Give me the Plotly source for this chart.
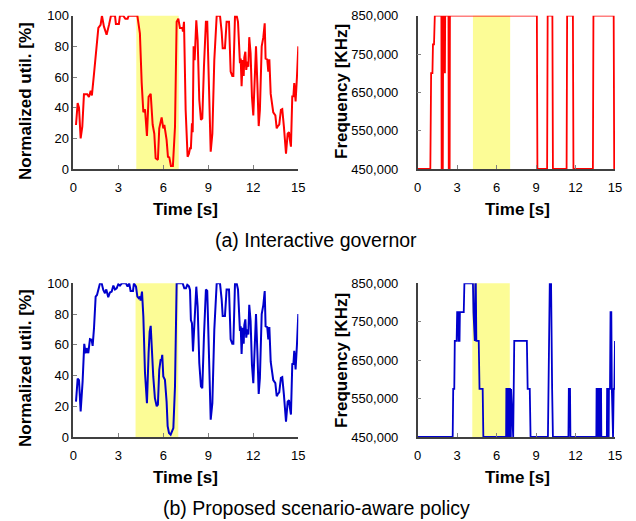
import plotly.graph_objects as go

# ---- CPU utilisation, interactive governor (time [s], util [%]) ----
TIME_UTIL_A = [0.18, 0.29, 0.38, 0.49, 0.60, 0.71, 0.93, 1.04, 1.16, 1.24, 1.38, 1.56, 1.67, 1.82, 1.91,
               2.04, 2.22, 2.38, 2.51, 2.78, 2.84, 3.04, 3.11, 3.33, 3.47, 3.62, 3.69, 4.27, 4.44, 4.56,
               4.67, 4.78, 4.91, 5.02, 5.16, 5.29, 5.40, 5.49, 5.64, 5.73, 5.89, 6.00, 6.07, 6.22, 6.31,
               6.40, 6.51, 6.64, 6.78, 6.89, 7.00, 7.11, 7.27, 7.31, 7.38, 7.49, 7.62, 7.71, 7.78, 7.84,
               7.91, 7.96, 8.02, 8.09, 8.20, 8.29, 8.40, 8.51, 8.60, 8.71, 8.84, 8.93, 9.04, 9.16, 9.27,
               9.40, 9.56, 9.78, 9.89, 9.96, 10.11, 10.22, 10.38, 10.49, 10.60, 10.67, 10.78, 10.89, 10.98,
               11.07, 11.11, 11.16, 11.22, 11.29, 11.36, 11.40, 11.47, 11.53, 11.60, 11.67, 11.73, 11.82,
               11.91, 12.00, 12.09, 12.18, 12.27, 12.36, 12.44, 12.56, 12.67, 12.76, 12.82, 12.93, 13.00,
               13.07, 13.16, 13.33, 13.47, 13.56, 13.64, 13.73, 13.84, 13.93, 14.04, 14.11, 14.18, 14.29,
               14.38, 14.44, 14.51, 14.60, 14.67, 14.73, 14.82, 14.91, 15.00]
UTIL_A = [28.7, 43, 40, 20, 27.6, 48.7, 48.7, 47, 51, 48, 62, 80, 92, 94, 100,
          93, 87.6, 94, 100, 100, 94.6, 94.6, 100, 100, 98, 98, 100, 100, 88.5, 56,
          37, 39, 21.5, 47, 49, 29, 23, 7, 6, 26.5, 33.7, 26.5, 28.7, 19, 8,
          7.6, 2, 2, 27.6, 96, 98, 92, 92, 89.6, 96, 38.5, 8, 10, 13.5, 13.5,
          29.8, 24, 80, 71, 97, 84, 45, 32, 33, 66.7, 96, 96, 45, 11.3, 23,
          71, 100, 100, 89.6, 78.7, 78.7, 96, 96, 63.5, 60.7, 60.7, 100, 100, 96,
          77.6, 69, 72, 54, 71, 60.7, 72.8, 76.5, 64.6, 70, 66.7, 86, 75.4,
          47, 35, 57, 80, 56, 28, 38.5, 80, 86, 95, 72, 71.5, 63.5,
          71.5, 49, 37, 35, 26.5, 28, 29, 38.5, 39, 27.6, 16.7, 10, 23,
          24, 19, 14.6, 48, 47, 56, 44, 60, 80]

# ---- CPU utilisation, scenario-aware policy ----
TIME_UTIL_B = [0.18, 0.29, 0.38, 0.49, 0.62, 0.73, 0.82, 0.89, 1.00, 1.11, 1.22, 1.29, 1.38, 1.49, 1.58,
               1.69, 1.78, 1.89, 2.00, 2.11, 2.20, 2.33, 2.44, 2.56, 2.67, 2.78, 2.89, 3.00, 3.11, 3.24,
               3.51, 3.62, 3.73, 3.82, 3.98, 4.04, 4.18, 4.27, 4.36, 4.44, 4.49, 4.58, 4.67, 4.78, 4.84,
               4.91, 5.02, 5.09, 5.16, 5.22, 5.33, 5.44, 5.56, 5.64, 5.73, 5.82, 5.89, 5.93, 6.00, 6.11,
               6.22, 6.29, 6.38, 6.49, 6.60, 6.67, 6.78, 6.89, 7.29, 7.40, 7.51, 7.60, 7.71, 7.78, 7.84,
               7.91, 7.98, 8.07, 8.11, 8.20, 8.29, 8.40, 8.51, 8.60, 8.71, 8.84, 8.93, 9.04, 9.16, 9.27,
               9.40, 9.56, 9.78, 9.89, 9.96, 10.11, 10.22, 10.38, 10.49, 10.60, 10.67, 10.78, 10.89, 10.98,
               11.07, 11.11, 11.16, 11.22, 11.29, 11.36, 11.40, 11.47, 11.53, 11.60, 11.67, 11.73, 11.82,
               11.91, 12.00, 12.09, 12.18, 12.27, 12.36, 12.44, 12.56, 12.67, 12.76, 12.82, 12.93, 13.00,
               13.07, 13.16, 13.33, 13.47, 13.56, 13.64, 13.73, 13.84, 13.93, 14.04, 14.11, 14.18, 14.29,
               14.38, 14.44, 14.51, 14.60, 14.67, 14.73, 14.82, 14.91, 15.00]
UTIL_B = [23, 38, 37, 16.7, 36, 60.6, 54.5, 57.8, 54.5, 63.6, 63.2, 59.3, 70.8, 91.3, 92.4,
          97.8, 100, 100, 95.7, 93.5, 96, 91, 94, 94.6, 98.5, 96, 96.7, 99.4, 98.5, 100,
          100, 97.8, 100, 95, 95, 100, 97.8, 91.3, 90.3, 91.3, 88.7, 94.6, 78.4, 41.6, 29.7,
          22, 54.5, 68.6, 72.3, 56.7, 39.4, 25.3, 20, 21, 43.7, 50.2, 50.6, 53.5, 39.4, 37.2,
          23, 7, 2.6, 1.5, 3.7, 5.8, 33, 100, 100, 96.7, 96.7, 99, 98, 95.7, 76,
          74, 55.6, 76, 80.5, 97.8, 84.8, 48, 33, 31.8, 65.4, 96, 95, 46, 11.3, 22,
          69.7, 100, 100, 89.6, 78.7, 78.7, 96, 96, 63.5, 60.7, 60.7, 100, 100, 96,
          77.6, 69, 72, 54, 71, 60.7, 72.8, 76.5, 64.6, 70, 66.7, 86, 75.4,
          47, 35, 57, 80, 56, 28, 38.5, 80, 86, 95, 72, 71.5, 63.5,
          71.5, 49, 37, 35, 26.5, 28, 29, 38.5, 39, 27.6, 16.7, 10, 23,
          24, 19, 14.6, 48, 47, 56, 44, 60, 80]

# ---- CPU frequency, interactive governor (time [s], KHz) ----
TIME_FREQ_A = [0.00, 0.96, 1.02, 1.12, 1.16, 1.24, 1.30, 1.80, 1.82, 1.85, 1.89, 1.91, 1.94, 2.02, 2.04,
               2.07, 2.09, 2.34, 2.36, 2.43, 2.45, 9.06, 9.10, 9.84, 9.88, 10.24, 10.28, 11.32, 11.36,
               11.80, 11.84, 13.32, 13.36, 14.90, 14.94, 15.00]
FREQ_A = [450000, 450000, 700000, 700000, 775000, 775000, 850000, 850000, 450000, 850000, 850000, 450000,
          850000, 850000, 700000, 700000, 850000, 850000, 450000, 450000, 850000, 850000, 450000, 450000,
          850000, 850000, 450000, 450000, 850000, 850000, 450000, 450000, 850000, 850000, 450000, 450000]

# ---- CPU frequency, scenario-aware policy ----
TIME_FREQ_B = [0.00, 2.66, 2.70, 2.78, 2.82, 2.96, 3.00, 3.08, 3.11, 3.18, 3.21, 3.50, 3.55, 4.20, 4.24,
               4.30, 4.34, 4.38, 4.42, 4.46, 4.50, 4.64, 4.70, 4.94, 4.99, 6.72, 6.74, 6.78, 6.80, 6.84,
               6.86, 6.90, 6.92, 6.96, 6.98, 7.02, 7.04, 7.08, 7.10, 7.26, 7.30, 7.34, 8.30, 8.36, 8.52,
               8.58, 9.90, 9.96, 10.04, 10.14, 10.18, 10.22, 10.28, 11.46, 11.49, 11.58, 11.61, 13.58,
               13.60, 13.64, 13.66, 13.70, 13.72, 13.76, 13.78, 13.86, 13.88, 13.94, 13.96, 14.38, 14.40,
               14.45, 14.47, 14.52, 14.54, 14.62, 14.66, 14.72, 14.76, 14.82, 14.85, 14.90, 14.95, 15.00]
FREQ_B = [450000, 450000, 575000, 575000, 700000, 700000, 775000, 775000, 700000, 700000, 775000, 775000,
          850000, 850000, 775000, 700000, 700000, 850000, 850000, 700000, 700000, 700000, 575000, 575000,
          450000, 450000, 575000, 575000, 450000, 450000, 575000, 575000, 450000, 450000, 575000, 575000,
          450000, 450000, 575000, 450000, 575000, 700000, 700000, 575000, 575000, 450000, 450000, 700000,
          850000, 850000, 575000, 575000, 450000, 450000, 575000, 575000, 450000, 450000, 575000, 575000,
          450000, 450000, 575000, 575000, 450000, 450000, 575000, 575000, 450000, 450000, 575000, 575000,
          450000, 450000, 575000, 575000, 775000, 775000, 575000, 450000, 450000, 575000, 575000, 700000]

# highlighted scenario window [s]
WINDOW_A = (4.2, 7.03)
WINDOW_B = (4.15, 7.0)

TIME_TICKS = [0, 3, 6, 9, 12, 15]
UTIL_TICKS = [0, 20, 40, 60, 80, 100]
FREQ_TICKS = [450000, 550000, 650000, 750000, 850000]

W, H = 636, 521
RED = "#ff0000"
BLUE = "#0000cc"
SHADE = "#fcfc96"
FONT = "Liberation Sans, Arial, sans-serif"


def px_x(a, b):
    return [a / W, b / W]


def px_y(top, bottom):
    return [1 - bottom / H, 1 - top / H]


fig = go.Figure()

fig.add_trace(go.Scatter(x=TIME_UTIL_A, y=UTIL_A, mode="lines", line=dict(color=RED, width=2),
                         xaxis="x", yaxis="y"))
fig.add_trace(go.Scatter(x=TIME_FREQ_A, y=FREQ_A, mode="lines", line=dict(color=RED, width=1.8),
                         xaxis="x2", yaxis="y2"))
fig.add_trace(go.Scatter(x=TIME_UTIL_B, y=UTIL_B, mode="lines", line=dict(color=BLUE, width=2),
                         xaxis="x3", yaxis="y3"))
fig.add_trace(go.Scatter(x=TIME_FREQ_B, y=FREQ_B, mode="lines", line=dict(color=BLUE, width=1.8),
                         xaxis="x4", yaxis="y4"))

axis_common = dict(showline=True, linecolor="#404040", linewidth=1.5, ticks="inside", ticklen=4,
                   tickcolor="#808080", tickwidth=1, showgrid=False, zeroline=False, automargin=False,
                   tickfont=dict(family=FONT, size=13, color="#000000"))

xa = dict(axis_common, range=[0, 15], tickvals=TIME_TICKS, ticklabelstandoff=6)
ya_util = dict(axis_common, range=[0, 100], tickvals=UTIL_TICKS, ticklabelstandoff=0)
ya_freq = dict(axis_common, range=[450000, 850000], tickvals=FREQ_TICKS, tickformat=",d",
               ticklabelstandoff=15)

TOP = (15.7, 169.0)
BOT = (283.3, 437.0)
LEFT = (73.3, 298.3)
RIGHT = (417.7, 615.0)

fig.update_layout(
    template="none",
    width=W, height=H, margin=dict(l=0, r=0, t=0, b=0, pad=0),
    paper_bgcolor="white", plot_bgcolor="white", showlegend=False,
    xaxis=dict(xa, domain=px_x(*LEFT), anchor="y"),
    yaxis=dict(ya_util, domain=px_y(*TOP), anchor="x"),
    xaxis2=dict(xa, domain=px_x(*RIGHT), anchor="y2"),
    yaxis2=dict(ya_freq, domain=px_y(*TOP), anchor="x2"),
    xaxis3=dict(xa, domain=px_x(*LEFT), anchor="y3"),
    yaxis3=dict(ya_util, domain=px_y(*BOT), anchor="x3"),
    xaxis4=dict(xa, domain=px_x(*RIGHT), anchor="y4"),
    yaxis4=dict(ya_freq, domain=px_y(*BOT), anchor="x4"),
)

for xr, yr, win in [("x", "y", WINDOW_A), ("x2", "y2", WINDOW_A), ("x3", "y3", WINDOW_B), ("x4", "y4", WINDOW_B)]:
    fig.add_shape(type="rect", xref=xr, yref=f"{yr} domain", x0=win[0], x1=win[1], y0=0, y1=1,
                  fillcolor=SHADE, line=dict(width=0), layer="below")

title_font = dict(family=FONT, size=17, color="#000000")
cap_font = dict(family=FONT, size=19.5, color="#000000")


def label(text, x, y, font, angle=0):
    fig.add_annotation(text=text, x=x / W, y=1 - y / H, xref="paper", yref="paper",
                       showarrow=False, font=font, textangle=angle, xanchor="center", yanchor="middle")


label("<b>Normalized util. [%]</b>", 25, 101, title_font, -90)
label("<b>Frequency [KHz]</b>", 341, 92, title_font, -90)
label("<b>Normalized util. [%]</b>", 25, 368, title_font, -90)
label("<b>Frequency [KHz]</b>", 341, 361, title_font, -90)
label("<b>Time [s]</b>", 185, 209, title_font)
label("<b>Time [s]</b>", 517, 209, title_font)
label("<b>Time [s]</b>", 185, 477, title_font)
label("<b>Time [s]</b>", 517, 477, title_font)
label("(a) Interactive governor", 316, 240, cap_font)
label("(b) Proposed scenario-aware policy", 316, 508, cap_font)

fig.write_html("out.html")
